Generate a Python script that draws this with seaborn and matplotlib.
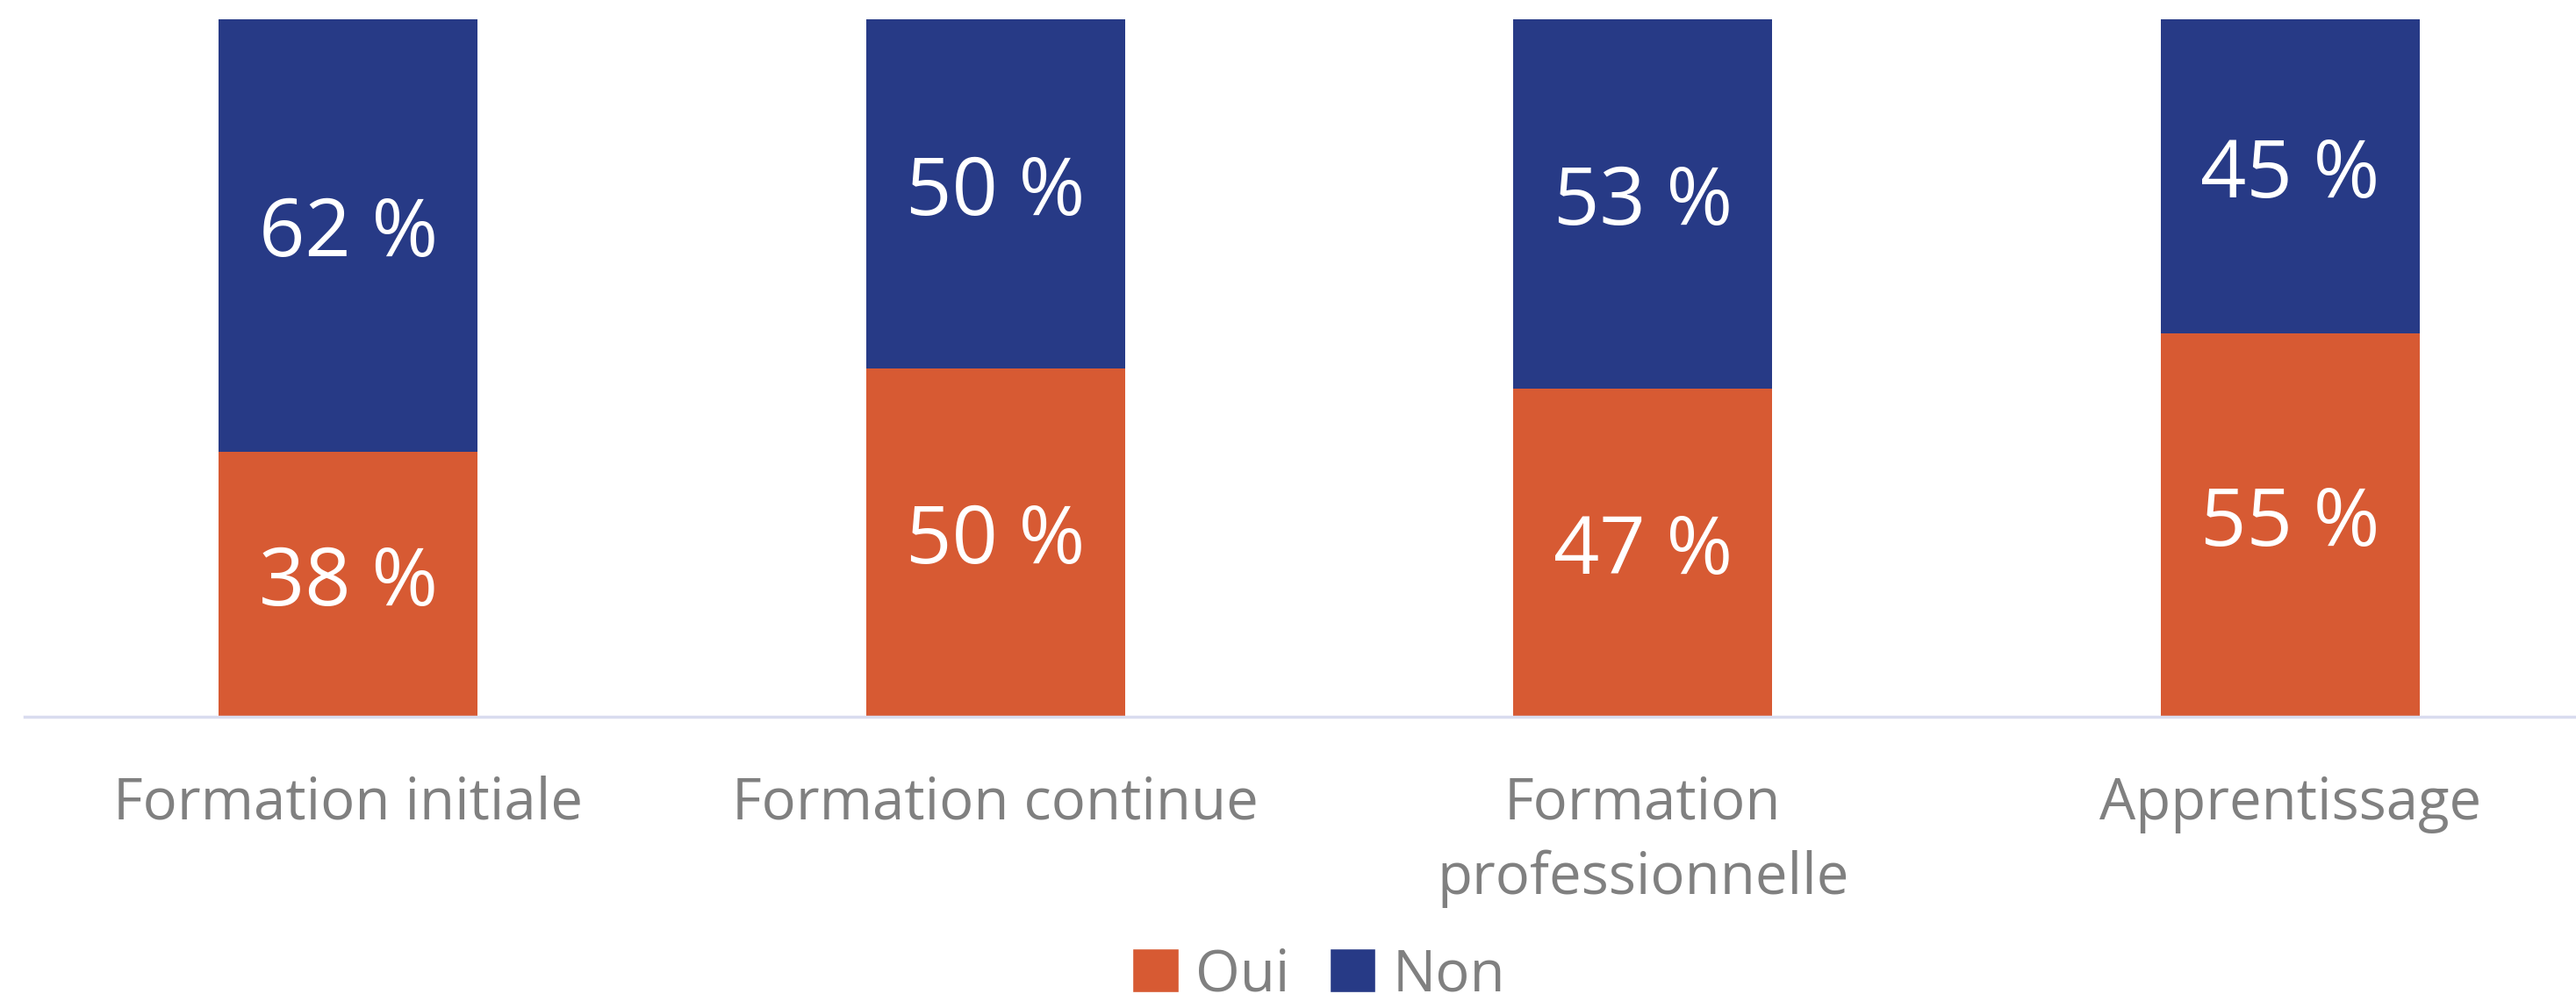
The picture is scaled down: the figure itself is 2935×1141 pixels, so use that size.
import matplotlib
matplotlib.use("Agg")
import matplotlib.pyplot as plt
import seaborn as sns
import pandas as pd
from matplotlib.patches import Patch

categories = ["Formation initiale", "Formation continue",
              "Formation\nprofessionnelle", "Apprentissage"]
oui = [38, 50, 47, 55]
non = [62, 50, 53, 45]
series_names = ["Oui", "Non"]

ORANGE = "#D75A33"
NAVY = "#273A86"
GREY = "#808080"

sns.set_theme(style="white")
plt.rcParams["font.family"] = ["Open Sans", "DejaVu Sans"]

fig = plt.figure(figsize=(29.35, 11.41), dpi=100)
ax = fig.add_axes([28 / 2935, 1 - 817 / 1141, 2950 / 2935, 795 / 1141])

df = pd.DataFrame({"cat": categories, "Oui": oui, "Non": non})

sns.barplot(data=df, x="cat", y="Oui", color=ORANGE, width=0.4,
            saturation=1, ax=ax, linewidth=0)
sns.barplot(data=df, x="cat", y="Non", color=NAVY, width=0.4,
            saturation=1, ax=ax, linewidth=0, bottom=df["Oui"])

for i, (o, n) in enumerate(zip(oui, non)):
    ax.text(i, o / 2, f"{o} %", ha="center", va="center",
            color="white", fontsize=66)
    ax.text(i, o + n / 2, f"{n} %", ha="center", va="center",
            color="white", fontsize=66)

ax.set_xlim(-0.5, 3.5)
ax.set_ylim(0, 100)
ax.set_xlabel("")
ax.set_ylabel("")
ax.set_yticks([])
for side in ["top", "right", "left"]:
    ax.spines[side].set_visible(False)
ax.spines["bottom"].set_color("#D9DCEF")
ax.spines["bottom"].set_linewidth(2.5)
ax.tick_params(axis="x", length=0, pad=48, labelsize=47, labelcolor=GREY)
for lbl in ax.get_xticklabels():
    lbl.set_linespacing(1.38)
    lbl.set_verticalalignment("top")

handles = [Patch(facecolor=ORANGE, label=series_names[0]),
           Patch(facecolor=NAVY, label=series_names[1])]
leg = fig.legend(handles=handles, loc="center",
                 bbox_to_anchor=((28 + 2950 / 2) / 2935, 1 - 1112 / 1141),
                 ncol=2, frameon=False, fontsize=47, labelcolor=GREY,
                 handlelength=0.8, handleheight=0.8, handletextpad=0.3,
                 columnspacing=0.7, borderpad=0, borderaxespad=0)

fig.savefig("out.png", dpi=100, facecolor="white")
